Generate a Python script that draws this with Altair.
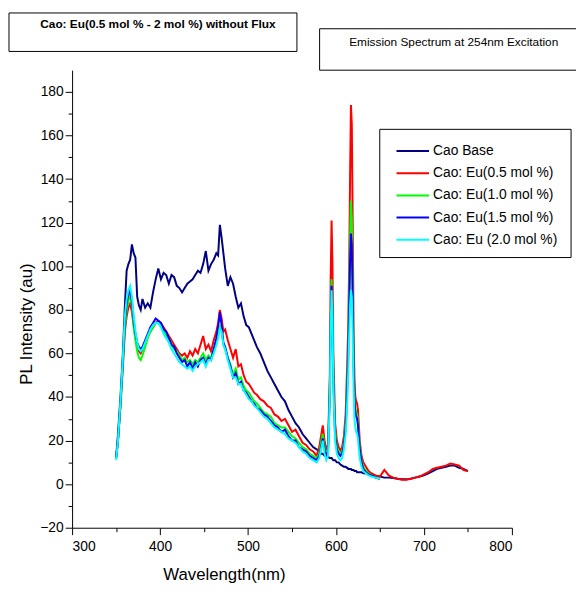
import altair as alt
import pandas as pd

# ---------------- data ----------------
wl = [
    350, 352, 355, 358, 360, 362, 364, 366, 368, 370,
    372, 374, 376, 378, 380, 383, 386, 389, 392, 395,
    398, 401, 404, 407, 410, 413, 416, 419, 422, 425,
    428, 431, 434, 437, 440, 443, 446, 449, 452, 455,
    458, 461, 464, 466, 468, 470, 472, 474, 477, 480,
    483, 486, 489, 492, 495, 498, 501, 504, 507, 510,
    514, 518, 522, 526, 530, 534, 538, 542, 546, 550,
    554, 558, 562, 566, 570, 574, 578, 581, 583, 585,
    587, 589, 591, 593, 594, 595, 596, 597, 599, 601,
    603, 605, 607, 609, 611, 612, 613, 614, 615, 616,
    617, 618, 619, 620, 621, 622, 623, 624, 625, 626,
    627, 629, 631, 634, 637, 640, 645, 650, 655, 660,
    665, 670, 675, 680, 685, 690, 695, 700, 705, 710,
    715, 720, 725, 730, 735, 740, 745, 750,
]

cao_base = [
    12, 22, 40, 62, 82, 98, 101, 103, 110, 106,
    104, 86, 82, 80, 85, 81, 83, 81, 88, 94,
    99, 94, 97, 96, 92, 96, 95, 91, 90, 88,
    90, 92, 93, 94, 96, 98, 97, 101, 107, 98,
    101, 103, 106, 105, 119, 113, 106, 99, 91, 95,
    92, 86, 81, 83, 77, 73, 72, 69, 66, 63,
    60, 56, 52, 49, 46, 43, 40, 38, 34, 31,
    28, 26, 23, 21, 19, 17, 16, 15, 14, 14,
    13, 13, 12.5, 12, 12, 12, 11.5, 11, 11, 10,
    10, 9, 8.5, 8, 8, 7.5, 7.5, 7, 7, 7,
    7, 6.5, 6.5, 6.5, 6, 6, 6, 5.5, 5.5, 5.5,
    5.5, 5.5, 5, 5, 4.5, 4, 3.8, 3.5, 3, 3,
    2.8, 2.5, 2.3, 2.2, 2.5, 3, 3.5, 4, 5, 6,
    7, 7.5, 8, 8.5, 8.5, 7.5, 7, 6,
]

eu_05 = [
    12, 19, 36, 56, 70, 77, 81, 83, 79, 73,
    68, 64, 61, 60, 62, 64, 68, 70, 72, 74,
    75, 74, 72, 70, 68, 66, 64, 62, 60, 59,
    60, 58, 61, 59, 62, 60, 64, 68, 62, 64,
    61, 66, 70, 74, 80, 76, 70, 71, 66, 62,
    58, 62, 54, 55, 50, 47, 46, 44, 42, 41,
    39, 38, 36, 35, 32, 31, 29, 30, 27, 24,
    25, 22, 19, 18, 16, 15, 13, 17, 22, 27,
    20, 16, 18, 50, 95, 121, 100, 60, 28, 20,
    17, 15.5, 17, 22, 32, 45, 58, 74, 100, 140,
    174, 165, 120, 70, 48, 40, 38, 37, 34, 27,
    20, 13, 10, 8, 6, 5, 4, 3.5, 6.5, 4,
    3, 2.5, 2, 2, 2.5, 3, 3.5, 4.5, 5.5, 7,
    7.5, 8, 8.5, 9.5, 9, 8.5, 6.5, 6,
]

eu_10 = [
    12, 19, 36, 57, 72, 80, 84, 87, 82, 72,
    66, 61, 58, 57, 59, 63, 67, 70, 72, 74,
    74, 73, 70, 68, 67, 64, 62, 61, 59, 57,
    58, 56, 57, 55, 57, 56, 58, 60, 57, 59,
    58, 62, 66, 68, 73, 70, 64, 62, 58, 55,
    50, 53, 48, 49, 45, 43, 42, 40, 38, 37,
    35, 33, 32, 31, 28, 27, 26, 26, 24, 22,
    21, 19, 17, 16, 14, 13, 12, 14, 19, 23,
    17, 14, 16, 45, 78, 94, 80, 50, 24, 17,
    15, 14, 15, 19, 28, 38, 50, 64, 85, 112,
    130, 122, 92, 58, 40, 35, 33, 32, 29, 23,
    17, 11, 8, 6, 5, 4, 3, 2.5,
]

eu_15 = [
    12, 19, 37, 59, 75, 83, 87, 89, 84, 75,
    69, 65, 63, 62, 63, 66, 69, 72, 74, 76,
    75, 74, 71, 70, 67, 64, 63, 60, 58, 56,
    57, 54, 56, 53, 56, 54, 57, 58, 55, 58,
    57, 62, 67, 72, 79, 73, 65, 63, 58, 54,
    49, 51, 46, 47, 43, 42, 40, 38, 37, 35,
    34, 32, 31, 29, 27, 26, 24, 25, 22, 20,
    20, 17, 16, 15, 13, 12, 11, 13, 17, 21,
    16, 13, 15, 42, 75, 91, 78, 48, 22, 16,
    14, 13, 14, 18, 26, 35, 47, 60, 80, 102,
    115, 110, 85, 55, 38, 33, 31, 30, 27, 21,
    16, 10, 7, 5.5, 4.5, 4, 3, 2.5,
]

eu_20 = [
    11, 19, 38, 60, 77, 85, 89, 91, 86, 77,
    70, 65, 62, 61, 62, 65, 68, 71, 73, 74,
    74, 72, 69, 67, 65, 62, 60, 58, 56, 55,
    54, 53, 54, 52, 54, 55, 56, 57, 54, 57,
    57, 60, 64, 67, 72, 70, 64, 62, 57, 53,
    49, 49, 46, 46, 43, 41, 39, 38, 36, 35,
    33, 31, 30, 28, 26, 25, 24, 23, 21, 20,
    19, 17, 15, 14, 12, 11, 10, 12, 16, 20,
    14, 11, 13, 40, 72, 89, 76, 45, 20, 14,
    12, 11, 12, 16, 23, 30, 40, 52, 68, 82,
    89, 86, 70, 45, 30, 26, 24, 23, 21, 16,
    12, 8, 6, 5, 4, 3.5, 3, 2.5,
]

series_names = [
    "Cao Base",
    "Cao: Eu(0.5 mol %)",
    "Cao: Eu(1.0 mol %)",
    "Cao: Eu(1.5 mol %)",
    "Cao: Eu (2.0 mol %)",
]
series_values = [cao_base, eu_05, eu_10, eu_15, eu_20]
series_colors = ["#000080", "#FF0000", "#00FF00", "#0000FF", "#00FFFF"]

x_ticks = list(range(300, 801, 50))
y_ticks = list(range(-20, 181, 10))

title_left = "Cao: Eu(0.5 mol % - 2 mol %) without Flux"
title_right = "Emission Spectrum at 254nm Excitation"

for v in series_values:
    if len(v) > len(wl):
        raise ValueError("series longer than wavelength grid")
if len(cao_base) != len(wl) or len(eu_05) != len(wl):
    raise ValueError("full series length mismatch")

FONT = "Liberation Sans"

# ---------------- encodings ----------------
x_enc = alt.X(
    "wl:Q",
    scale=alt.Scale(domain=[300, 800], nice=False, zero=False),
    axis=alt.Axis(
        values=x_ticks,
        labelExpr="datum.value % 100 === 0 ? datum.label : ''",
        tickSize={"condition": {"test": "datum.value % 100 === 0", "value": 7}, "value": 4},
        grid=False,
        domainColor="black",
        tickColor="black",
        labelColor="black",
        labelFont=FONT,
        labelFontSize=14,
        labelPadding=5,
        title="Wavelength(nm)",
        titleFont=FONT,
        titleFontSize=17,
        titleFontWeight="normal",
        titleColor="black",
        titleX=154,
        titleY=47,
        titleAlign="center",
        titleBaseline="middle",
    ),
)

y_enc = alt.Y(
    "val:Q",
    scale=alt.Scale(domain=[-20, 190], nice=False, zero=False),
    axis=alt.Axis(
        values=y_ticks,
        labelExpr="datum.value % 20 === 0 ? datum.label : ''",
        tickSize={"condition": {"test": "datum.value % 20 === 0", "value": 7}, "value": 4},
        grid=False,
        domainColor="black",
        tickColor="black",
        labelColor="black",
        labelFont=FONT,
        labelFontSize=14,
        labelPadding=2,
        title="PL Intensity (au)",
        titleFont=FONT,
        titleFontSize=17,
        titleFontWeight="normal",
        titleColor="black",
        titleX=-46,
        titleY=257,
        titleAlign="center",
        titleBaseline="middle",
        titleAngle=270,
    ),
)

layers = []
for name, vals, col in zip(series_names, series_values, series_colors):
    df = pd.DataFrame({"wl": wl[: len(vals)], "val": vals})
    layers.append(
        alt.Chart(df)
        .mark_line(color=col, strokeWidth=2)
        .encode(x=x_enc, y=y_enc)
    )

one = pd.DataFrame({"k": [0]})

# legend (manual, boxed)
legend_box = alt.Chart(one).mark_rect(fill="white", stroke="black", strokeWidth=1).encode(
    x=alt.value(312), x2=alt.value(506), y=alt.value(60), y2=alt.value(190)
)
layers.append(legend_box)
for i, (name, col) in enumerate(zip(series_names, series_colors)):
    yy = 82 + i * 22.5
    layers.append(
        alt.Chart(one).mark_rule(color=col, strokeWidth=2).encode(
            x=alt.value(329), x2=alt.value(362), y=alt.value(yy)
        )
    )
    layers.append(
        alt.Chart(pd.DataFrame({"t": [name]}))
        .mark_text(align="left", baseline="middle", font=FONT, fontSize=14, color="black")
        .encode(x=alt.value(366), y=alt.value(yy), text="t:N")
    )

# title boxes
box1 = alt.Chart(one).mark_rect(fill="white", stroke="black", strokeWidth=1).encode(
    x=alt.value(-64), x2=alt.value(228), y=alt.value(-58), y2=alt.value(-19)
)
txt1 = alt.Chart(pd.DataFrame({"t": [title_left]})).mark_text(
    align="center", baseline="middle", font=FONT, fontSize=12, fontWeight="bold", color="black"
).encode(x=alt.value(87), y=alt.value(-47), text="t:N")
box2 = alt.Chart(one).mark_rect(fill="white", stroke="black", strokeWidth=1).encode(
    x=alt.value(251), x2=alt.value(520), y=alt.value(-42), y2=alt.value(0)
)
txt2 = alt.Chart(pd.DataFrame({"t": [title_right]})).mark_text(
    align="center", baseline="middle", font=FONT, fontSize=12, color="black"
).encode(x=alt.value(387), y=alt.value(-29), text="t:N")
layers += [box1, txt1, box2, txt2]

chart = (
    alt.layer(*layers)
    .properties(
        width=446,
        height=464,
        autosize=alt.AutoSizeParams(type="none"),
        padding={"left": 65, "top": 59, "right": 65, "bottom": 52},
        background="white",
    )
    .configure_view(stroke=None)
)

chart.save("out.html", embed_options={"renderer": "svg", "actions": False})
